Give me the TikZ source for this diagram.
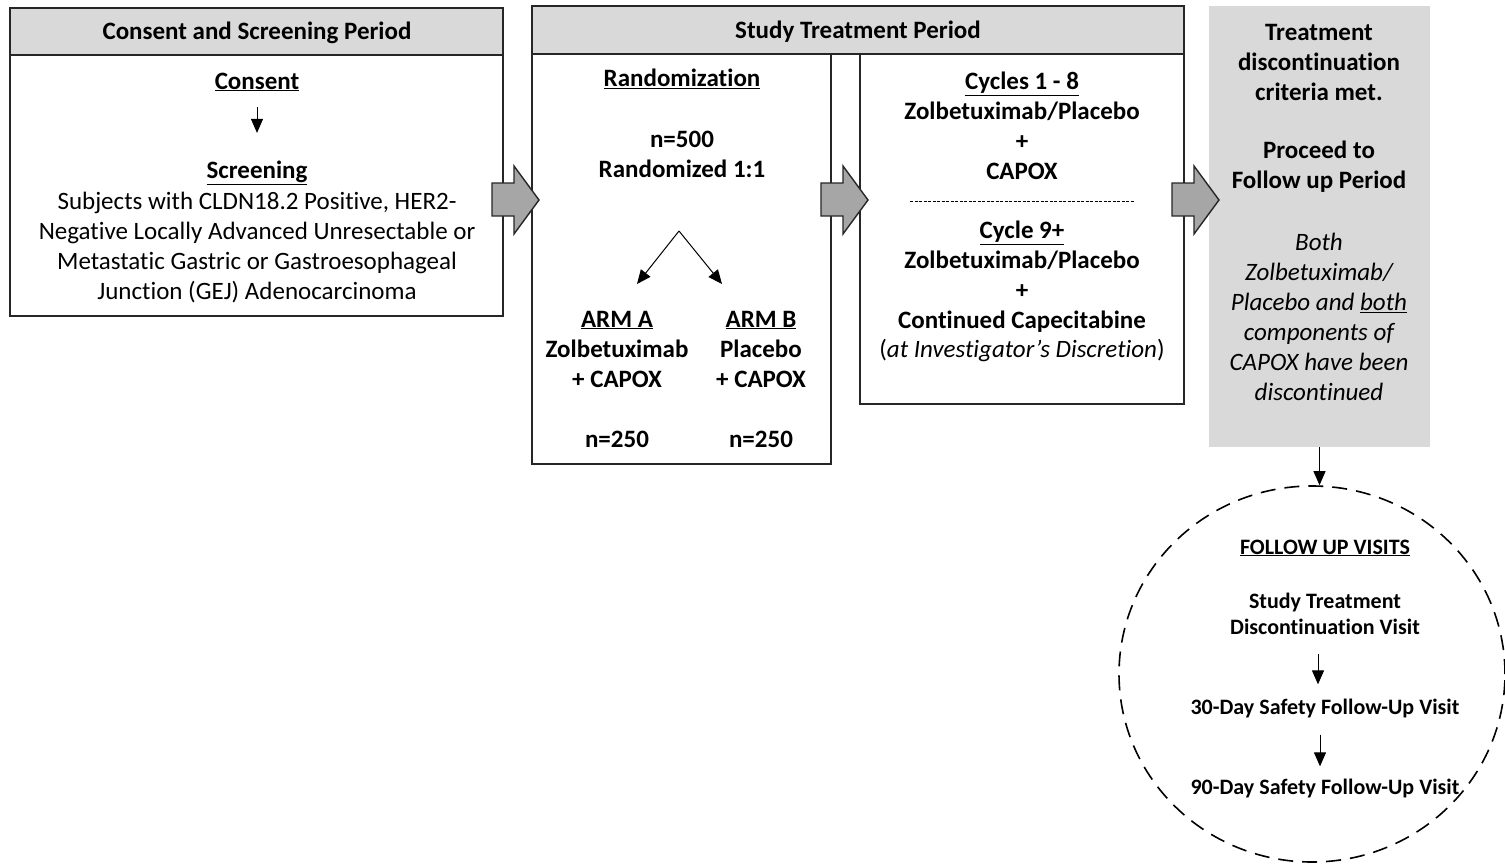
\documentclass[tikz,border=0pt]{standalone}
\usepackage{fontspec}
\setmainfont{Carlito}[Ligatures=NoCommon]
\usetikzlibrary{positioning,calc,arrows.meta,shapes.geometric}
\definecolor{headergray}{HTML}{D9D9D9}
\definecolor{arrowgray}{HTML}{A6A6A6}
\definecolor{linegray}{HTML}{262626}
\newcommand{\ul}[1]{\underline{#1}}

\tikzset{
  period/.style={draw=linegray, line width=1.6pt, fill=headergray},
  panel/.style={draw=linegray, line width=1.6pt, fill=white},
  blockarrow/.style={draw=linegray, line width=1.4pt, fill=arrowgray, line join=miter},
  thinarrow/.style={-{Triangle[width=12pt,length=14pt]}, line width=1pt},
  txt/.style={font=\fontsize{25}{30}\selectfont, align=center, inner sep=0pt},
  btxt/.style={font=\fontsize{25}{30}\selectfont\bfseries, align=center, inner sep=0pt},
  itxt/.style={font=\fontsize{25}{30}\selectfont\itshape, align=center, inner sep=0pt},
  smalltxt/.style={font=\fontsize{22}{26}\selectfont\bfseries, align=center, inner sep=0pt}
}

\begin{document}
\begin{tikzpicture}[x=1pt, y=-1pt]
  \useasboundingbox (0,0) rectangle (1505,864);

  % consent and screening
  \draw[period] (10,8) rectangle (503,55);
  \draw[panel] (10,55) rectangle (503,316);
  \node[btxt] (screenhead) at (257,33) {Consent and Screening Period};
  \node[btxt] (consent) at (257,82) {\ul{Consent}};
  \node[btxt] (screening) at (257,173) {\ul{Screening}};
  \node[txt] (subjects) at (257,248) {Subjects with CLDN18.2 Positive, HER2-\\Negative Locally Advanced Unresectable or\\Metastatic Gastric or Gastroesophageal\\Junction (GEJ) Adenocarcinoma};
  \draw[thinarrow, shorten <=16pt, shorten >=28pt] (consent) -- (screening);

  % study treatment
  \draw[period] (532,6) rectangle (1184,54);
  \draw[panel] (532,54) rectangle (831,464);
  \draw[panel] (860,54) rectangle (1184,404);
  \node[btxt] (treathead) at (858,32) {Study Treatment Period};

  \node[btxt] (random) at (682,79) {\ul{Randomization}};
  \node[btxt] (ratio) at (682,154) {n=500\\Randomized 1:1};
  \node[btxt] (armA) at (617,379) {\ul{ARM A}\\Zolbetuximab\\+ CAPOX\\[30pt]n=250};
  \node[btxt] (armB) at (761,379) {\ul{ARM B}\\Placebo\\+ CAPOX\\[30pt]n=250};
  \coordinate (split) at (679,231);
  \coordinate (tipA) at (637,284);
  \coordinate (tipB) at (722,284);
  \draw[thinarrow] (split) -- (tipA);
  \draw[thinarrow] (split) -- (tipB);

  \node[btxt] (early) at (1022,126) {\ul{Cycles 1 - 8}\\Zolbetuximab/Placebo\\+\\CAPOX};
  \draw[dashed, dash pattern=on 3pt off 1.5pt, line width=0.8pt] (910,201) -- (1135,201);
  \node[btxt] (late) at (1022,277) {\ul{Cycle 9+}\\Zolbetuximab/Placebo\\+\\Continued Capecitabine};
  \node[txt] (discretion) at (1022,350) {(\textit{at Investigator’s Discretion})};

  % discontinuation
  \node[fill=headergray, minimum width=221pt, minimum height=441pt, inner sep=0pt] (stopbox) at (1319.5,226.5) {};
  \node[btxt] (criteria) at (1319,62) {Treatment\\discontinuation\\criteria met.};
  \node[btxt] (proceed) at (1319,167) {Proceed to\\Follow up Period};
  \node[itxt] (both) at (1319,317) {Both\\Zolbetuximab/\\Placebo and \ul{both}\\components of\\CAPOX have been\\discontinued};

  % block arrows
  \foreach \x in {492,821,1172}
    \draw[blockarrow, shift={(\x,0)}] (0,183) -- (22,183) -- (22,166) -- (47,200)
      -- (22,234) -- (22,216) -- (0,216) -- cycle;

  % follow up visits
  \node[draw, dashed, dash pattern=on 15pt off 9pt, line width=1.6pt, ellipse,
    minimum width=386pt, minimum height=376pt] (followup) at (1312,674) {};
  \draw[thinarrow] (stopbox.south) -- (stopbox.south |- followup.north);
  \node[smalltxt] (visits) at (1325,548) {\ul{FOLLOW UP VISITS}};
  \node[smalltxt] (discvisit) at (1325,614) {Study Treatment\\Discontinuation Visit};
  \node[smalltxt] (day30) at (1325,709) {30-Day Safety Follow-Up Visit};
  \node[smalltxt] (day90) at (1325,789) {90-Day Safety Follow-Up Visit};
  \draw[thinarrow, shorten <=19pt, shorten >=15pt] (discvisit.south -| 1318,0) -- (day30.north -| 1318,0);
  \draw[thinarrow, shorten <=16pt, shorten >=13pt] (day30.south -| 1320,0) -- (day90.north -| 1320,0);
\end{tikzpicture}
\end{document}
